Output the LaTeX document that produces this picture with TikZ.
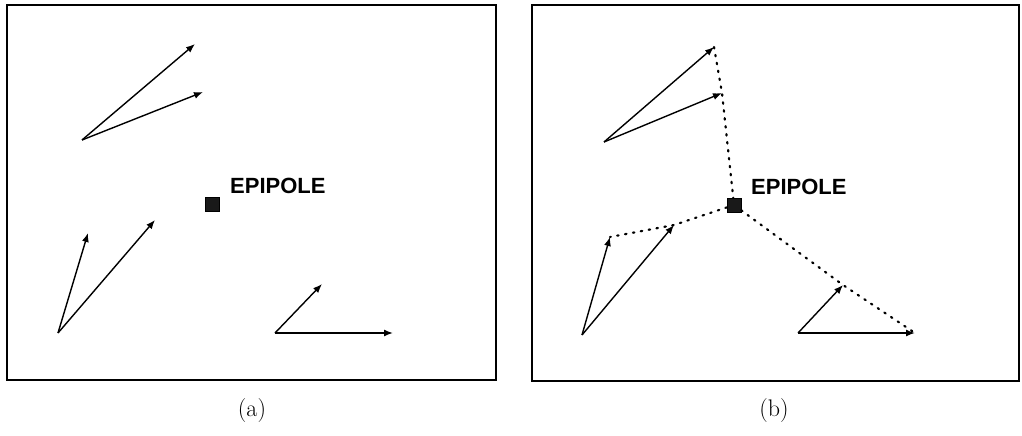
\documentclass[tikz,border=0pt]{standalone}
\usepackage{fontspec}
\newfontfamily\epifont{Liberation Sans}
\usetikzlibrary{arrows.meta}
\begin{document}
\begin{tikzpicture}[x=1pt,y=-1pt,
  frame/.style={draw,line width=1.4pt},
  vec/.style={draw,line width=1.4pt,-{Latex[length=9pt,width=7pt]}},
  epi/.style={fill=black!90,draw=black,minimum size=14pt,inner sep=0pt},
  epilabel/.style={font=\epifont\bfseries\fontsize{22}{24}\selectfont,anchor=base west,inner sep=0pt},
  captext/.style={font=\fontsize{24}{26}\selectfont,inner sep=0pt},
  epiline/.style={draw,line width=2.2pt,dash pattern=on 1.5pt off 6.5pt,line cap=round}]
\useasboundingbox (0,0) rectangle (1022,436);
% ---------- panel (a)
\node[frame,minimum width=489pt,minimum height=375pt,inner sep=0pt] (fa) at (251.5,192.5) {};
\coordinate (a1) at (82,140);
\coordinate (a1t1) at (195,44);
\coordinate (a1t2) at (203,92);
\coordinate (a2) at (58,333);
\coordinate (a2t1) at (88,233);
\coordinate (a2t2) at (155,220);
\coordinate (a3) at (275,333);
\coordinate (a3t1) at (322,284);
\coordinate (a3t2) at (393,333);
\node[epi] (ea) at (212,204) {};
\node[epilabel] (la) at (230,193) {EPIPOLE};
\draw[vec] (a1) -- (a1t1);
\draw[vec] (a1) -- (a1t2);
\draw[vec] (a2) -- (a2t1);
\draw[vec] (a2) -- (a2t2);
\draw[vec] (a3) -- (a3t1);
\draw[vec] (a3) -- (a3t2);
\node[captext] (capa) at (252,411) {(a)};
% ---------- panel (b)
\node[frame,minimum width=487pt,minimum height=376pt,inner sep=0pt] (fb) at (775.5,193) {};
\coordinate (b1) at (604,142);
\coordinate (b1t1) at (714,47);
\coordinate (b1t2) at (722,93);
\coordinate (b2) at (582,335);
\coordinate (b2t1) at (610,237);
\coordinate (b2t2) at (674,225);
\coordinate (b3) at (798,333);
\coordinate (b3t1) at (843,285);
\coordinate (b3t2) at (915,333);
\node[epi] (eb) at (734,205) {};
\node[epilabel] (lb) at (751,194) {EPIPOLE};
\draw[epiline] (b1t1) -- (b1t2) -- (eb);
\draw[epiline] (eb) -- (b2t2) -- (b2t1);
\draw[epiline] (eb) -- (b3t1) -- (b3t2);
\draw[vec] (b1) -- (b1t1);
\draw[vec] (b1) -- (b1t2);
\draw[vec] (b2) -- (b2t1);
\draw[vec] (b2) -- (b2t2);
\draw[vec] (b3) -- (b3t1);
\draw[vec] (b3) -- (b3t2);
\node[captext] (capb) at (774,411) {(b)};
\end{tikzpicture}
\end{document}
